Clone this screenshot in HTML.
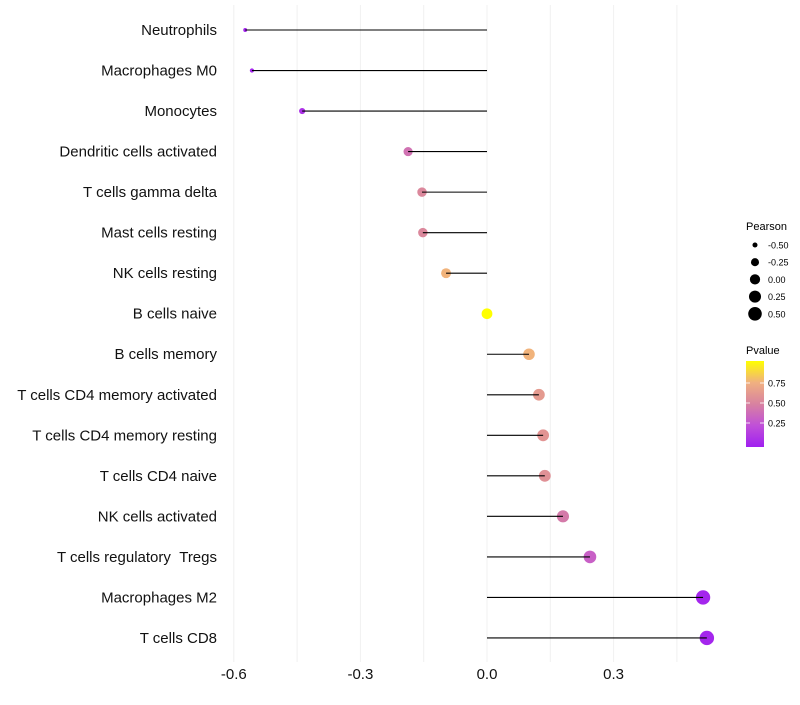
<!DOCTYPE html>
<html><head><meta charset="utf-8"><style>
body{margin:0;background:#fff;font-family:"Liberation Sans",sans-serif}
svg text{font-family:"Liberation Sans",sans-serif}
</style></head><body>
<svg id="chart" width="800" height="700">
<g id="grid"></g>
<g id="points"></g>
<g id="marks"></g>
<g id="ylabels"></g>
<g id="xlabels"></g>
<g id="legend"></g>
</svg>
<script>
const categories=["Neutrophils","Macrophages M0","Monocytes","Dendritic cells activated","T cells gamma delta","Mast cells resting","NK cells resting","B cells naive","B cells memory","T cells CD4 memory activated","T cells CD4 memory resting","T cells CD4 naive","NK cells activated","T cells regulatory\u00a0\u00a0Tregs","Macrophages M2","T cells CD8"];
const pearson=[-0.573,-0.557,-0.438,-0.187,-0.154,-0.152,-0.097,0.0,0.0995,0.123,0.133,0.137,0.18,0.244,0.512,0.521];
const pvalue=[0.02,0.03,0.09,0.42,0.53,0.53,0.76,1.0,0.76,0.63,0.6,0.58,0.46,0.33,0.03,0.03];
const xTicks=[-0.6,-0.3,0.0,0.3];
const xTickLabels=["-0.6","-0.3","0.0","0.3"];
const gridVals=[-0.6,-0.45,-0.3,-0.15,0,0.15,0.3,0.45];
const sizeLegend=[-0.5,-0.25,0,0.25,0.5];
const sizeLegendLabels=["-0.50","-0.25","0.00","0.25","0.50"];
const pLegend=[0.25,0.5,0.75];

const NS="http://www.w3.org/2000/svg";
function mk(tag,attrs,parent){const e=document.createElementNS(NS,tag);for(const k in attrs)e.setAttribute(k,attrs[k]);parent.appendChild(e);return e;}
const xs=v=>487+v*422;
const ys=i=>30+i*40.53;
const rs=v=>Math.sqrt(Math.max(1.5,29+44*v));
const stops=[[0,[160,32,240]],[0.25,[192,80,216]],[0.5,[216,130,160]],[0.75,[240,176,128]],[1,[255,255,0]]];
function col(p){p=Math.max(0,Math.min(1,p));for(let i=1;i<stops.length;i++){if(p<=stops[i][0]){const a=stops[i-1],b=stops[i];const t=(p-a[0])/(b[0]-a[0]);const c=a[1].map((x,j)=>Math.round(x+(b[1][j]-x)*t));return `rgb(${c})`;}}return "rgb(255,255,0)";}

const grid=document.getElementById('grid');
gridVals.forEach(v=>{const l=mk('line',{x1:xs(v),x2:xs(v),y1:5,y2:662,stroke:'#f0f0f0','stroke-width':1},grid);

});

const marks=document.getElementById('marks'),pts=document.getElementById('points'),yl=document.getElementById('ylabels');
categories.forEach((c,i)=>{
 const y=ys(i);
 const pt=mk('circle',{cx:xs(pearson[i]),cy:y,r:rs(pearson[i]),fill:col(pvalue[i])},pts);
 
 
 const seg=mk('line',{x1:xs(0),x2:xs(pearson[i]),y1:y,y2:y,stroke:'#000','stroke-width':1.1},marks);
 
 
 const t=mk('text',{x:217,y:y+5,'text-anchor':'end','font-size':15,fill:'#111'},yl);t.textContent=c;
 
 
});
const xl=document.getElementById('xlabels');
xTicks.forEach((v,i)=>{const t=mk('text',{x:xs(v),y:679,'text-anchor':'middle','font-size':15,fill:'#111'},xl);t.textContent=xTickLabels[i];
 
 });

const lg=document.getElementById('legend');
let tt=mk('text',{x:746,y:230,'font-size':11,fill:'#000'},lg);tt.textContent='Pearson';


sizeLegend.forEach((v,i)=>{const y=245+i*17.2;
 const c=mk('circle',{cx:755,cy:y,r:rs(v)*0.95,fill:'#000'},lg);
 
 
 const t=mk('text',{x:768,y:y+3.5,'font-size':9,fill:'#000'},lg);t.textContent=sizeLegendLabels[i];
 
 });
tt=mk('text',{x:746,y:354,'font-size':11,fill:'#000'},lg);tt.textContent='Pvalue';


const defs=mk('defs',{},lg);const gr=mk('linearGradient',{id:'pg',x1:0,y1:1,x2:0,y2:0},defs);
stops.forEach(s=>mk('stop',{offset:s[0],'stop-color':`rgb(${s[1]})`},gr));
const bar=mk('rect',{x:746,y:361,width:18,height:86,fill:'url(#pg)'},lg);


const pY=p=>443-p*80;
pLegend.forEach(p=>{mk('line',{x1:746,x2:750,y1:pY(p),y2:pY(p),stroke:'#fff','stroke-width':0.8},lg);mk('line',{x1:760,x2:764,y1:pY(p),y2:pY(p),stroke:'#fff','stroke-width':0.8},lg);
 const t=mk('text',{x:768,y:pY(p)+3.5,'font-size':9,fill:'#000'},lg);t.textContent=p.toFixed(2);
 
 });
</script>
</body></html>
